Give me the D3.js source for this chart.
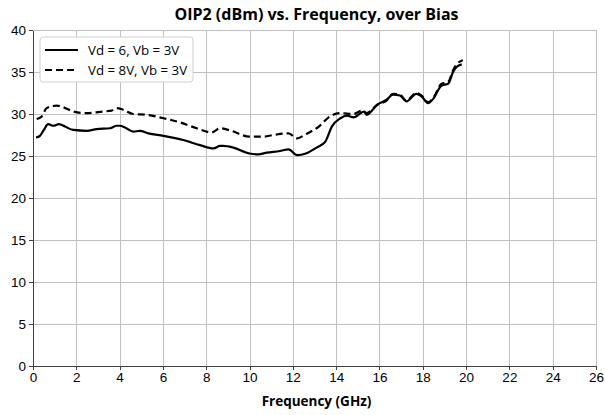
<!DOCTYPE html>
<html lang="en">
<head>
    <meta charset="UTF-8">
    <title>OIP2 vs Frequency</title>
    <style>
        body { margin: 0; background: #fff; }
        svg { font-family: "Open Sans", "Noto Sans", sans-serif; }
        .grid line { stroke: #c0c0c0; stroke-width: 1; shape-rendering: crispEdges; }
        .axis path, .axis line { stroke: #404040; shape-rendering: crispEdges; }
        .axis text { font-size: 13.5px; fill: #000; }
    </style>
</head>
<body>
<div id="chart"></div>
<script src="https://cdn.jsdelivr.net/npm/d3@7"></script>
<script>
    // 数据 (GHz, dBm)
    const freqA = [0.14, 0.32, 0.5, 0.7, 0.94, 1.2, 1.48, 1.86, 2.48, 2.94, 3.56, 3.87, 4.02, 4.25, 4.63, 4.94, 5.33, 6.02, 6.94, 7.71, 8.33, 8.64, 8.79, 9.25, 10.0, 10.4, 10.8, 11.4, 11.8, 12.2, 12.6, 13.1, 13.5, 13.8, 14.2, 14.5, 14.8, 15.3, 15.4, 15.9, 16.33, 16.63, 16.94, 17.25, 17.7, 17.94, 18.25, 18.48, 18.87, 19.17, 19.4, 19.56, 19.8];
    const oipA  = [27.2, 27.4, 28.1, 28.8, 28.6, 28.8, 28.5, 28.1, 28.0, 28.2, 28.3, 28.6, 28.6, 28.4, 27.9, 28.0, 27.7, 27.4, 26.9, 26.3, 25.9, 26.2, 26.2, 26.0, 25.3, 25.2, 25.4, 25.6, 25.8, 25.1, 25.3, 26.0, 26.7, 28.5, 29.5, 29.8, 29.6, 30.3, 29.9, 31.1, 31.7, 32.3, 32.2, 31.5, 32.4, 32.1, 31.3, 31.8, 33.4, 33.6, 35.0, 35.6, 35.9];
    const freqB = [0.17, 0.4, 0.63, 1.09, 1.4, 1.86, 2.48, 3.25, 3.63, 3.87, 4.17, 4.63, 5.25, 6.02, 6.79, 7.56, 8.25, 8.64, 9.15, 10.0, 10.6, 11.1, 11.8, 12.2, 12.6, 13.2, 13.7, 14.2, 14.8, 15.2, 15.4, 15.9, 16.33, 16.63, 16.94, 17.25, 17.7, 17.94, 18.25, 18.48, 18.87, 19.17, 19.4, 19.56, 19.85];
    const oipB  = [29.4, 29.7, 30.7, 31.0, 30.8, 30.3, 30.1, 30.3, 30.4, 30.7, 30.5, 30.0, 29.9, 29.5, 29.0, 28.3, 27.8, 28.3, 28.0, 27.3, 27.3, 27.5, 27.7, 27.1, 27.6, 28.5, 29.7, 30.1, 30.0, 30.4, 30.1, 31.1, 31.6, 32.4, 32.3, 31.6, 32.5, 32.2, 31.4, 31.9, 33.6, 33.8, 35.2, 35.9, 36.4];
    const seriesNames = ["Vd = 6, Vb = 3V", "Vd = 8V, Vb = 3V"];
    const xTicks = d3.range(0, 27, 2);
    const yTicks = d3.range(0, 41, 5);

    const W = 605, H = 415;
    const m = { top: 30, right: 9, bottom: 49, left: 33 };
    const iw = W - m.left - m.right, ih = H - m.top - m.bottom;

    const svg = d3.select("#chart").append("svg")
        .attr("width", W)
        .attr("height", H);

    const x = d3.scaleLinear().domain([0, 26]).range([0, iw]);
    const y = d3.scaleLinear().domain([0, 40]).range([ih, 0]);

    const g = svg.append("g").attr("transform", `translate(${m.left},${m.top})`);

    // 网格
    const grid = g.append("g").attr("class", "grid");
    grid.selectAll(".gx").data(xTicks.slice(1)).enter().append("line")
        .attr("x1", d => Math.round(x(d)) + 0.5).attr("x2", d => Math.round(x(d)) + 0.5)
        .attr("y1", 0).attr("y2", ih);
    grid.selectAll(".gy").data(yTicks.slice(1)).enter().append("line")
        .attr("y1", d => Math.round(y(d)) + 0.5).attr("y2", d => Math.round(y(d)) + 0.5)
        .attr("x1", 0).attr("x2", iw);

    // 坐标轴
    g.append("g").attr("class", "axis")
        .attr("transform", `translate(0,${ih})`)
        .call(d3.axisBottom(x).tickValues(xTicks).tickSize(4).tickSizeOuter(0).tickPadding(2))
        .call(a => a.select(".domain").attr("stroke-width", 1.5));
    g.append("g").attr("class", "axis")
        .call(d3.axisLeft(y).tickValues(yTicks).tickSize(4).tickSizeOuter(0).tickPadding(3))
        .call(a => a.select(".domain").attr("stroke-width", 1.5));

    // 曲线
    const line = d3.line().x(d => x(d[0])).y(d => y(d[1])).curve(d3.curveMonotoneX);
    const dataA = freqA.map((f, i) => [f, oipA[i]]);
    const dataB = freqB.map((f, i) => [f, oipB[i]]);

    g.append("path").datum(dataB)
        .attr("fill", "none").attr("stroke", "#000").attr("stroke-width", 2.2)
        .attr("stroke-dasharray", "7,4")
        .attr("d", line);
    g.append("path").datum(dataA)
        .attr("fill", "none").attr("stroke", "#000").attr("stroke-width", 2.2)
        .attr("d", line);

    // 标题
    svg.append("text")
        .attr("x", m.left + iw / 2 + 2).attr("y", 20)
        .attr("text-anchor", "middle")
        .attr("font-size", 16).attr("font-weight", "bold")
        .text("OIP2 (dBm) vs. Frequency, over Bias");
    svg.append("text")
        .attr("x", m.left + iw / 2 + 2).attr("y", 406)
        .attr("text-anchor", "middle")
        .attr("font-size", 13.5).attr("font-weight", "bold")
        .text("Frequency (GHz)");

    // 图例
    const lg = svg.append("g").attr("transform", "translate(40,37)");
    lg.append("rect")
        .attr("width", 153).attr("height", 45).attr("rx", 3)
        .attr("fill", "#fff").attr("stroke", "#d0d0d0");
    seriesNames.forEach((s, i) => {
        const yy = 13 + i * 20;
        lg.append("line")
            .attr("x1", 5).attr("x2", 38).attr("y1", yy).attr("y2", yy)
            .attr("stroke", "#000").attr("stroke-width", 2.2)
            .attr("stroke-dasharray", i ? "7,4" : null);
        lg.append("text")
            .attr("x", 48).attr("y", yy + 5)
            .attr("font-size", 13.3)
            .text(s);
    });
</script>
</body>
</html>
